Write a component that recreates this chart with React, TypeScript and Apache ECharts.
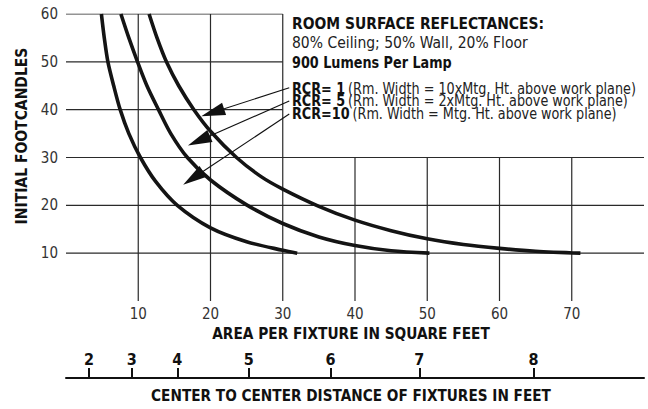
import React, { useEffect, useRef } from "react";
import * as echarts from "echarts";

// ---- data ----
const areaTicks = [10, 20, 30, 40, 50, 60, 70];
const footcandleTicks = [10, 20, 30, 40, 50, 60];

// [area per fixture (sq ft), initial footcandles]
const rcr1Curve = [
  [11.5, 60], [12.6, 55], [13.9, 50], [15.6, 45], [17.7, 40], [20, 35.5], [23.6, 30],
  [27, 26.0], [30, 23.4], [35, 19.8], [40, 16.9], [45, 14.7], [50, 13.0],
  [55, 11.8], [60, 11.0], [65, 10.4], [71.2, 10.0],
];
const rcr5Curve = [
  [7.6, 60], [8.7, 55], [9.9, 50], [11.2, 45], [12.8, 40], [14.5, 35], [16.8, 30],
  [20, 25.3], [25, 20.1], [30, 16.2], [35, 13.4], [40, 11.6], [45, 10.5], [50.3, 10.0],
];
const rcr10Curve = [
  [4.9, 60], [5.3, 55], [5.8, 50], [6.6, 45], [7.5, 40], [8.7, 35], [10.3, 30],
  [12.4, 25], [15.4, 20], [20, 15.3], [25, 12.4], [30, 10.6], [32.0, 10.0],
];

const distanceLabels = ["2", "3", "4", "5", "6", "7", "8"];
const distanceAreas = [3.2, 9.1, 15.4, 25.3, 36.6, 48.9, 64.7];

// grid lines (full-width below 30 fc, short above)
const fullHLines = [10, 20, 30];
const shortHLines = [40, 50, 60];
const fullVLines = [10, 20, 30];
const shortVLines = [40, 50, 60, 70];

// arrows: [start, end] in data coordinates
const arrowLines = [
  [[30.9, 44.6], [20.3, 39.4]],
  [[30.9, 41.8], [18.4, 33.5]],
  [[30.9, 39.1], [17.6, 25.7]],
];

const FONT = '"Liberation Sans Narrow", "DejaVu Sans Condensed", "Roboto Condensed", "Arial Narrow", sans-serif';

export default function App() {
  const ref = useRef<HTMLDivElement>(null);
  useEffect(() => {
    if (!ref.current) return;
    const chart = echarts.init(ref.current, undefined, { renderer: "svg" });

    const gridLineStyle = { color: "#2a2a2a", width: 1.2 };
    const gridSeries: any[] = [];
    fullHLines.forEach((y) => gridSeries.push([[0, y], [80, y]]));
    shortHLines.forEach((y) => gridSeries.push([[0, y], [30, y]]));
    fullVLines.forEach((x) => gridSeries.push([[x, 0], [x, 60]]));
    shortVLines.forEach((x) => gridSeries.push([[x, 0], [x, 30]]));

    const series: any[] = gridSeries.map((d, i) => ({
      type: "line",
      data: d,
      symbol: "none",
      silent: true,
      lineStyle: gridLineStyle,
      z: 1,
      ...(i === 0
        ? {
            markLine: {
              silent: true,
              symbol: ["none", "triangle"],
              symbolSize: [13, 24],
              label: { show: false },
              lineStyle: { color: "#111", width: 1.1, type: "solid" },
              itemStyle: { color: "#111" },
              data: arrowLines.map((a) => [
                { coord: a[0] },
                { coord: a[1] },
              ]),
            },
          }
        : {}),
    }));

    [rcr1Curve, rcr5Curve, rcr10Curve].forEach((c) =>
      series.push({
        type: "line",
        data: c,
        symbol: "none",
        smooth: 0.3,
        silent: true,
        lineStyle: { color: "#141414", width: 3.6, cap: "butt" },
        z: 3,
      })
    );

    const boldText = (text: string, x: number, y: number, sx: number, extra: any = {}) => ({
      type: "text",
      x,
      y,
      scaleX: sx,
      style: {
        text,
        fontFamily: FONT,
        fontWeight: "bold",
        fontSize: 16,
        fill: "#111",
        verticalAlign: "middle",
        ...extra,
      },
    });

    const option: any = {
      animation: false,
      backgroundColor: "#fff",
      grid: [
        { left: 66, right: 4, top: 14, bottom: 108 },
        { left: 66, right: 4, top: 368, height: 10 },
      ],
      xAxis: [
        {
          type: "value",
          min: 0,
          max: 80,
          interval: 10,
          gridIndex: 0,
          axisLine: { show: false },
          axisTick: { show: false },
          splitLine: { show: false },
          axisLabel: {
            margin: 5,
            fontFamily: FONT,
            fontSize: 15,
            color: "#333",
            formatter: (v: number) => (areaTicks.includes(v) ? String(v) : ""),
          },
        },
        {
          type: "value",
          min: 0,
          max: 80,
          gridIndex: 1,
          position: "bottom",
          axisLine: { show: true, onZero: false, lineStyle: { color: "#111", width: 2 } },
          splitLine: { show: false },
          axisTick: {
            show: true,
            inside: true,
            customValues: distanceAreas,
            length: 10,
            lineStyle: { color: "#111", width: 2 },
          },
          axisLabel: {
            inside: true,
            customValues: distanceAreas,
            margin: 11,
            fontFamily: FONT,
            fontWeight: "bold",
            fontSize: 16,
            color: "#111",
            formatter: (v: number) => {
              const i = distanceAreas.indexOf(v);
              return i >= 0 ? distanceLabels[i] : "";
            },
          },
        },
      ],
      yAxis: [
        {
          type: "value",
          min: 0,
          max: 60,
          interval: 10,
          gridIndex: 0,
          axisLine: { show: false },
          axisTick: { show: false },
          splitLine: { show: false },
          axisLabel: {
            margin: 8,
            fontFamily: FONT,
            fontSize: 15,
            color: "#333",
            formatter: (v: number) => (footcandleTicks.includes(v) ? String(v) : ""),
          },
        },
        { type: "value", gridIndex: 1, show: false, min: 0, max: 1 },
      ],
      series,
      graphic: [
        {
          type: "text",
          x: 21.5,
          y: 136,
          rotation: Math.PI / 2,
          style: {
            text: "INITIAL FOOTCANDLES",
            fontFamily: FONT,
            fontWeight: "bold",
            fontSize: 15.5,
            fill: "#111",
            align: "center",
            verticalAlign: "middle",
          },
        },
        boldText("AREA PER FIXTURE IN SQUARE FEET", 351, 333, 0.955, { align: "center" }),
        boldText("CENTER TO CENTER DISTANCE OF FIXTURES IN FEET", 351, 396, 0.95, { align: "center" }),
        boldText("ROOM SURFACE REFLECTANCES:", 292, 23, 0.965),
        {
          type: "text",
          x: 292,
          y: 42.5,
          scaleX: 0.97,
          style: {
            text: "80% Ceiling; 50% Wall, 20% Floor",
            fontFamily: FONT,
            fontSize: 16,
            fill: "#222",
            verticalAlign: "middle",
          },
        },
        boldText("900 Lumens Per Lamp", 292, 62.5, 0.89),
        ...[
          ["RCR= 1", "(Rm. Width = 10xMtg. Ht. above work plane)", 88.5],
          ["RCR= 5", "(Rm. Width = 2xMtg. Ht. above work plane)", 101.2],
          ["RCR=10", "(Rm. Width = Mtg. Ht. above work plane)", 113.8],
        ].map(([b, n, y]) => ({
          type: "text",
          x: 292,
          y: y as number,
          scaleX: 0.888,
          style: {
            text: `{b|${b}} {n|${n}}`,
            verticalAlign: "middle",
            rich: {
              b: { fontFamily: FONT, fontWeight: "bold", fontSize: 16, fill: "#111", color: "#111" },
              n: { fontFamily: FONT, fontSize: 16, fill: "#222", color: "#222" },
            },
          },
        })),
      ],
    };
    chart.setOption(option);
    return () => chart.dispose();
  }, []);
  return (
    <div
      ref={ref}
      style={{ position: "fixed", left: 0, top: 0, width: 648, height: 409 }}
    />
  );
}
